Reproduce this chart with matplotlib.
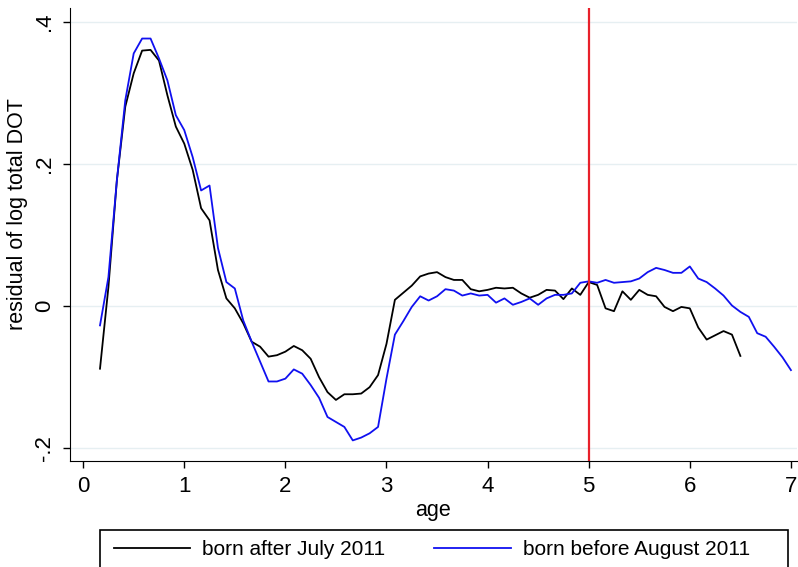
import numpy as np
import matplotlib
matplotlib.use('Agg')
import matplotlib.pyplot as plt
from matplotlib.patches import Rectangle

plt.rcParams['font.family'] = ['Liberation Sans', 'DejaVu Sans']

# age in months, converted to years (one point per month)
months_after = np.arange(2, 79)
months_before = np.arange(2, 85)

# residual of log total DOT, born after July 2011
resid_after = [
    -0.088, 0.027, 0.177, 0.281, 0.328, 0.360, 0.361, 0.346, 0.297, 0.253,
    0.229, 0.192, 0.138, 0.121, 0.051, 0.011, -0.003, -0.024, -0.050, -0.057,
    -0.071, -0.069, -0.064, -0.056, -0.062, -0.074, -0.100, -0.121, -0.132, -0.124,
    -0.124, -0.123, -0.114, -0.097, -0.053, 0.009, 0.019, 0.029, 0.042, 0.046,
    0.048, 0.041, 0.037, 0.037, 0.024, 0.021, 0.023, 0.026, 0.025, 0.026,
    0.018, 0.012, 0.016, 0.023, 0.022, 0.010, 0.025, 0.016, 0.034, 0.030,
    -0.003, -0.007, 0.021, 0.009, 0.023, 0.016, 0.014, -0.001, -0.007, -0.001,
    -0.003, -0.030, -0.047, -0.041, -0.035, -0.040, -0.070,
]

# residual of log total DOT, born before August 2011
resid_before = [
    -0.027, 0.041, 0.177, 0.290, 0.356, 0.377, 0.377, 0.349, 0.318, 0.269,
    0.248, 0.210, 0.163, 0.170, 0.082, 0.034, 0.025, -0.020, -0.050, -0.078,
    -0.106, -0.106, -0.102, -0.089, -0.095, -0.111, -0.129, -0.156, -0.163, -0.170,
    -0.189, -0.185, -0.179, -0.170, -0.102, -0.040, -0.021, -0.001, 0.014, 0.008,
    0.014, 0.024, 0.022, 0.015, 0.018, 0.015, 0.016, 0.005, 0.011, 0.002,
    0.006, 0.011, 0.002, 0.011, 0.016, 0.016, 0.018, 0.033, 0.035, 0.033,
    0.037, 0.033, 0.034, 0.035, 0.039, 0.048, 0.054, 0.051, 0.047, 0.047,
    0.056, 0.039, 0.034, 0.025, 0.015, 0.001, -0.008, -0.015, -0.038, -0.043,
    -0.057, -0.072, -0.090,
]

cutoff_age = 5
xticks = [0, 1, 2, 3, 4, 5, 6, 7]
yticks = [-0.2, 0, 0.2, 0.4]
ytick_labels = ['-.2', '0', '.2', '.4']

fig = plt.figure(figsize=(7.98, 5.67), dpi=100)
ax = fig.add_axes([70 / 798, 106 / 567, 727 / 798, 453 / 567])

for y in yticks:
    ax.axhline(y, color='#e6eff2', lw=1.0, zorder=0)

ax.plot(months_after / 12, resid_after, color='black', lw=1.3, label='born after July 2011')
ax.plot(months_before / 12, resid_before, color='#1010f0', lw=1.3, label='born before August 2011')
ax.axvline(cutoff_age, color='#e8202a', lw=1.6)

ax.set_xlim(-0.13, 7.06)
ax.set_ylim(-0.218, 0.42)
ax.set_xticks(xticks)
ax.set_yticks(yticks)
ax.set_yticklabels(ytick_labels, rotation=90, va='center')
ax.tick_params(axis='both', direction='out', length=5, width=1, labelsize=16, pad=6)
ax.spines['top'].set_visible(False)
ax.spines['right'].set_visible(False)
ax.set_xlabel('age', fontsize=15.5, labelpad=2)
ax.set_ylabel('residual of log total DOT', fontsize=15.5)
ax.yaxis.set_label_coords(-0.058, 0.545)

handles, labels = ax.get_legend_handles_labels()
leg = fig.legend(handles, labels, loc='upper left', bbox_to_anchor=(108 / 798, 1 - 534 / 567),
                 ncol=2, frameon=False, fontsize=15, handlelength=3.65, handletextpad=0.58,
                 columnspacing=2.35, borderaxespad=0, borderpad=0.3)
fig.patches.append(Rectangle((100 / 798, -0.05), 688 / 798, 0.05 + 37 / 567,
                             transform=fig.transFigure, fill=False, edgecolor='black', lw=1.2))

fig.savefig('out.png', dpi=100)
